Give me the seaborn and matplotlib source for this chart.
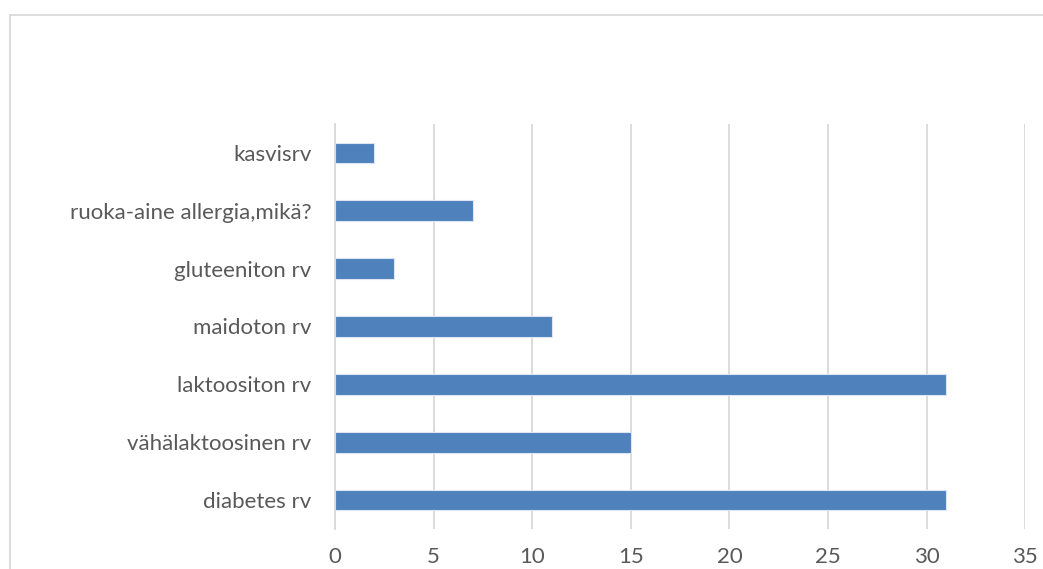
import matplotlib
matplotlib.use("Agg")
import matplotlib.pyplot as plt
from matplotlib.lines import Line2D
import seaborn as sns
import pandas as pd

categories = [
    "kasvisrv",
    "ruoka-aine allergia,mikä?",
    "gluteeniton rv",
    "maidoton rv",
    "laktoositon rv",
    "vähälaktoosinen rv",
    "diabetes rv",
]
counts = [2, 7, 3, 11, 31, 15, 31]
x_ticks = [0, 5, 10, 15, 20, 25, 30, 35]

df = pd.DataFrame({"ruokavalio": categories, "lkm": counts})

sns.set_theme(style="white")
plt.rcParams["font.family"] = ["Lato", "DejaVu Sans"]

fig = plt.figure(figsize=(10.43, 5.69), dpi=100)
ax = fig.add_axes([0.3212, 0.0703, 0.6618, 0.7118])

sns.barplot(data=df, x="lkm", y="ruokavalio", order=categories,
            color="#4F81BD", saturation=1, width=0.36,
            edgecolor="#DCE6F2", linewidth=0.8, ax=ax)

ax.set_xlim(0, 35)
ax.set_xticks(x_ticks)
ax.set_xlabel("")
ax.set_ylabel("")
ax.xaxis.grid(True, color="#D9D9D9", linewidth=1.3)
ax.set_axisbelow(True)
for side in ["top", "right", "bottom"]:
    ax.spines[side].set_visible(False)
ax.spines["left"].set_color("#D9D9D9")
ax.spines["left"].set_linewidth(1.3)
ax.tick_params(axis="both", length=0, labelsize=16, colors="#595959")
ax.tick_params(axis="y", pad=17)
ax.tick_params(axis="x", pad=13)

# chart area outline
fig.add_artist(Line2D([10 / 1043, 1.0], [1 - 15 / 569, 1 - 15 / 569],
                      transform=fig.transFigure, color="#D9D9D9", linewidth=1.3))
fig.add_artist(Line2D([10 / 1043, 10 / 1043], [0.0, 1 - 15 / 569],
                      transform=fig.transFigure, color="#D9D9D9", linewidth=1.3))

fig.savefig("out.png", dpi=100, facecolor="white")
